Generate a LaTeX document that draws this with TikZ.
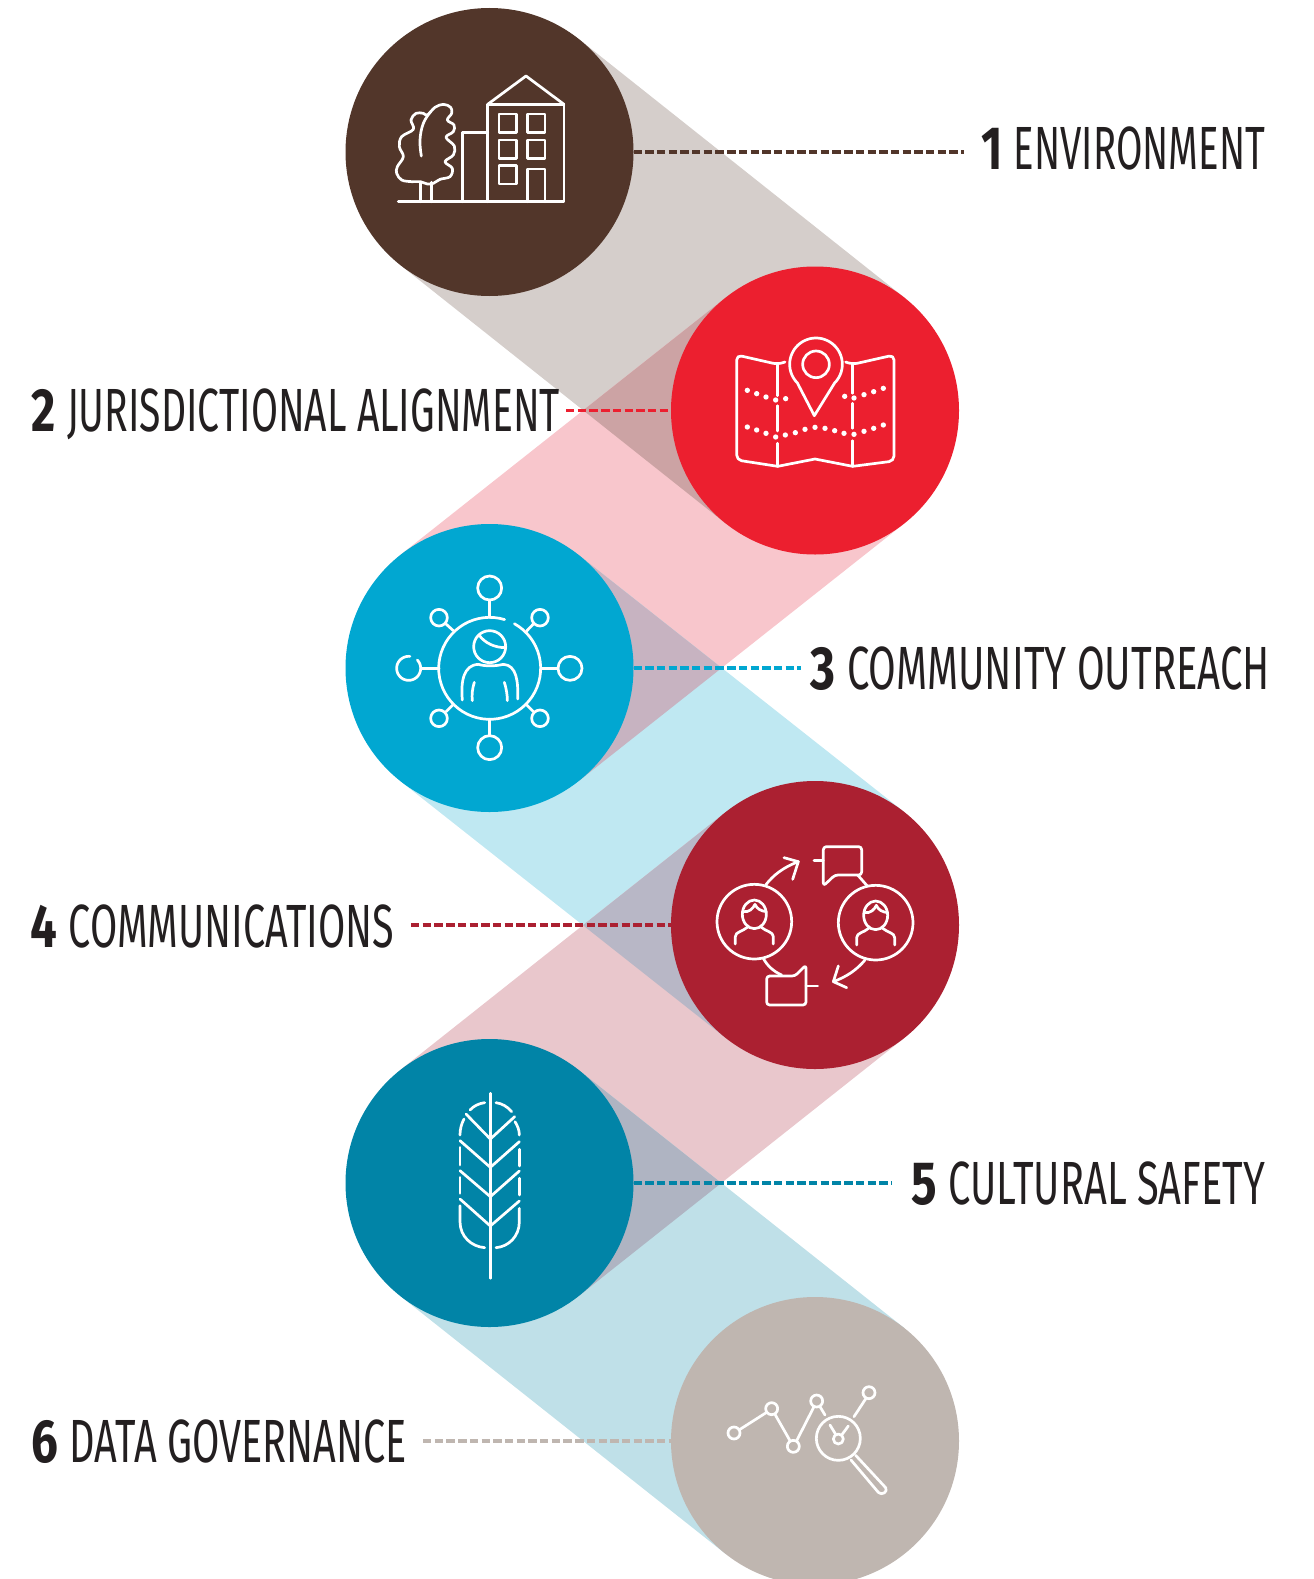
\documentclass[tikz,border=0pt]{standalone}
\usepackage{fontspec}
\usepackage{graphicx}
\usetikzlibrary{calc}
\newfontfamily\lablight{Fira Sans}
\newfontfamily\labbold{Fira Sans}[BoldFont={Fira Sans Bold}]
\definecolor{cA}{HTML}{52362A}
\definecolor{cB}{HTML}{EC1F2F}
\definecolor{cC}{HTML}{01A7D1}
\definecolor{cD}{HTML}{AB2031}
\definecolor{cE}{HTML}{0184A7}
\definecolor{cF}{HTML}{BFB6B0}
\definecolor{bA}{HTML}{D5CECB}
\definecolor{bB}{HTML}{F8C6CC}
\definecolor{bC}{HTML}{BFE8F2}
\definecolor{bD}{HTML}{E9C7CC}
\definecolor{bE}{HTML}{BFE0E8}
\definecolor{oA}{HTML}{CCA3A4}
\definecolor{oB}{HTML}{C7B3C1}
\definecolor{oC}{HTML}{B8B7C6}
\definecolor{oD}{HTML}{AFB4C2}
\definecolor{txt}{HTML}{231F20}
\newcommand\bandp[2]{($(#1)!144pt!90:(#2)$) -- ($(#1)!144pt!-90:(#2)$) -- ($(#2)!144pt!90:(#1)$) -- ($(#2)!144pt!-90:(#1)$) -- cycle}
\newcommand\labtext[3]{\resizebox{#1pt}{\height}{\fontsize{61}{61}\selectfont\scalebox{1.2}[1]{\labbold\bfseries #2} {\lablight #3}}}
\newcommand\facehead[2]{%
  \begin{scope}[shift={(#1,#2)}]
    \draw (0,0) circle[radius=112];
    \draw (0,-22) ellipse[x radius=36,y radius=43];
    \draw (-34,-30) .. controls (-15,-28) and (-5,-38) .. (2,-52) .. controls (8,-38) and (20,-32) .. (36,-30);
    \draw (-57,67) -- (-57,45) .. controls (-57,30) and (-35,30) .. (-20,16);
    \draw (57,67) -- (57,45) .. controls (57,30) and (35,30) .. (20,16);
  \end{scope}}
\tikzset{
  disc/.style={circle,inner sep=0pt,outer sep=0pt,minimum size=288pt},
  leader/.style={line width=3.6pt,dash pattern=on 8.4pt off 3.3pt},
  lab/.style={inner sep=0pt,outer sep=0pt,anchor=base west,text=txt},
  icon/.style={white,line width=2.7pt,line cap=round,line join=round,x=.33333pt,y=-.33333pt},
}
\begin{document}
\begin{tikzpicture}[x=1pt,y=-1pt]
\useasboundingbox (0,0) rectangle (1314,1579);
\clip (0,0) rectangle (1314,1579);
\coordinate (p1) at (489.5,152);
\coordinate (p2) at (815,410.5);
\coordinate (p3) at (489.5,668);
\coordinate (p4) at (815,925);
\coordinate (p5) at (489.5,1183);
\coordinate (p6) at (815,1441);
% bands
\fill[bA] \bandp{p1}{p2};
\fill[bB] \bandp{p2}{p3};
\fill[bC] \bandp{p3}{p4};
\fill[bD] \bandp{p4}{p5};
\fill[bE] \bandp{p5}{p6};
\begin{scope}\clip \bandp{p1}{p2}; \fill[oA] \bandp{p2}{p3};\end{scope}
\begin{scope}\clip \bandp{p2}{p3}; \fill[oB] \bandp{p3}{p4};\end{scope}
\begin{scope}\clip \bandp{p3}{p4}; \fill[oC] \bandp{p4}{p5};\end{scope}
\begin{scope}\clip \bandp{p4}{p5}; \fill[oD] \bandp{p5}{p6};\end{scope}
% discs
\node[disc,fill=cA] (c1) at (p1) {};
\node[disc,fill=cB] (c2) at (p2) {};
\node[disc,fill=cC] (c3) at (p3) {};
\node[disc,fill=cD] (c4) at (p4) {};
\node[disc,fill=cE] (c5) at (p5) {};
\node[disc,fill=cF] (c6) at (p6) {};
% labels
\node[lab] (l1) at (981,169) {\labtext{284}{1}{ENVIRONMENT}};
\node[lab] (l2) at (31,431) {\labtext{529}{2}{JURISDICTIONAL ALIGNMENT}};
\node[lab] (l3) at (810,689) {\labtext{460}{3}{COMMUNITY OUTREACH}};
\node[lab] (l4) at (30,947) {\labtext{364}{4}{COMMUNICATIONS}};
\node[lab] (l5) at (911,1204) {\labtext{354}{5}{CULTURAL SAFETY}};
\node[lab] (l6) at (31,1462) {\labtext{376}{6}{DATA GOVERNANCE}};
% leaders
\coordinate (e1) at (964,152);
\coordinate (e2) at (566,410.5);
\coordinate (e3) at (801,668);
\coordinate (e4) at (411,925);
\coordinate (e5) at (891,1183);
\coordinate (e6) at (423,1441);
\draw[leader,cA] (c1.east) -- (e1);
\draw[leader,cB] (e2) -- (c2.west);
\draw[leader,cC] (c3.east) -- (e3);
\draw[leader,cD] (e4) -- (c4.west);
\draw[leader,cE] (c5.east) -- (e5);
\draw[leader,cF] (e6) -- (c6.west);
% icon 1
\begin{scope}[shift={(340,0)},icon]
\draw (175,605) -- (672,605) -- (672,313) -- (443,313) -- (443,605);
\draw (443,313) -- (558,228) -- (672,313);
\draw (367,605) -- (367,397) -- (443,397);
\foreach \a/\b in {477/342,562/342,477/420,562/420,477/497}
  \draw (\a,\b) rectangle ++(53,55);
\draw (562,605) -- (562,507) -- (615,507) -- (615,605);
\draw (241,605) -- (241,547); \draw (275,605) -- (275,547);
\draw plot[smooth cycle,tension=.6] coordinates {(241,545) (215,545) (185,540) (170,520) (172,500) (190,470) (178,440) (185,410) (220,388) (213,360) (228,340) (250,340) (262,345) (285,322) (310,313) (332,322) (335,340) (322,360) (342,375) (340,395) (318,412) (343,438) (340,465) (315,485) (337,505) (330,530) (300,538) (280,550) (262,552)};
\draw plot[smooth,tension=.7] coordinates {(244,468) (240,420) (250,370) (272,335)};
\end{scope}
% icon 2
\begin{scope}[shift={(670,265)},icon]
\draw[rounded corners=5pt] (345,291) -- (323,298) -- (200,270) -- (200,585) -- (323,604);
\draw (323,604) -- (435,582) -- (548,604);
\draw[rounded corners=5pt] (548,604) -- (672,588) -- (672,270) -- (548,298) -- (527,291);
\draw (322,298) -- (322,392); \draw (322,422) -- (322,498); \draw (322,535) -- (322,604);
\draw (547,298) -- (547,385); \draw (547,415) -- (547,490); \draw (547,527) -- (547,604);
\draw (433,452) -- plot[domain=135:405,samples=48,variable=\t]({438+79*cos(\t)},{298+79*sin(\t)}) -- cycle;
\draw (438,298) circle[radius=40];
\foreach \a/\b in {232/376,260/386,288/396,317/405,347/401,524/394,552/399,582/389,611/380,640/370,232/486,260/495,288/505,317/516,346/510,376/503,405/493,435/487,465/490,494/497,522/505,552/508,582/499,611/490,640/480}
  \fill (\a,\b) circle[radius=8];
\end{scope}
% icon 3
\begin{scope}[shift={(340,525)},icon]
\draw plot[domain=299:647,samples=60,variable=\t]({449+153*cos(\t)},{430+153*sin(\t)});
\draw (449,189) circle[radius=36]; \draw (449,225) -- (449,277);
\draw (449,668) circle[radius=36]; \draw (449,583) -- (449,632);
\draw (690,430) circle[radius=36]; \draw (605,430) -- (654,430);
\draw plot[domain=-44:276,samples=48,variable=\t]({206+36*cos(\t)},{430+36*sin(\t)}); \draw (243,430) -- (297,430);
\draw (297,278) circle[radius=25]; \draw (318,297) -- (340,317);
\draw (600,278) circle[radius=25]; \draw (580,297) -- (560,318);
\draw (297,580) circle[radius=25]; \draw (318,560) -- (340,538);
\draw (600,580) circle[radius=25]; \draw (580,560) -- (558,538);
\draw (449,365) circle[radius=48];
\draw (417,330) .. controls (435,355) and (465,368) .. (497,368);
\draw (367,525) .. controls (362,470) and (370,420) .. (415,418) .. controls (435,424) and (465,424) .. (490,418) .. controls (530,420) and (535,470) .. (533,522);
\draw (403,472) .. controls (397,490) and (395,510) .. (397,527);
\draw (493,472) .. controls (499,490) and (502,510) .. (502,527);
\end{scope}
% icon 4
\begin{scope}[shift={(670,780)},icon]
\facehead{253}{425}
\facehead{617}{428}
\draw (287,315) .. controls (310,285) and (340,262) .. (385,245);
\draw (342,233) -- (385,245) -- (368,298);
\draw (585,540) .. controls (560,570) and (530,590) .. (490,605);
\draw (505,558) -- (490,605) -- (530,623);
\draw (432,241) -- (460,241);
\draw[rounded corners=3pt] (460,318) -- (460,200) -- (575,200) -- (575,285) -- (495,285) -- cycle;
\draw (563,285) -- (592,318);
\draw[rounded corners=3pt] (408,555) -- (408,675) -- (290,675) -- (290,588) -- (375,588) -- cycle;
\draw (408,618) -- (443,618);
\draw (280,535) .. controls (292,558) and (312,575) .. (335,585);
\end{scope}
% icon 5
\begin{scope}[shift={(340,1040)},icon]
\draw (451,160) -- (451,715);
\draw (378,222) -- (451,297) -- (524,230);
\draw (360,302) -- (451,382) -- (538,305);
\draw (360,392) -- (451,470) -- (538,393);
\draw (360,477) -- (451,558) -- (538,483);
\draw (434,188) .. controls (418,190) and (402,197) .. (390,210);
\draw (468,188) .. controls (485,190) and (503,200) .. (515,215);
\draw (372,237) .. controls (364,252) and (360,268) .. (360,285);
\draw (525,245) .. controls (533,258) and (538,270) .. (538,285);
\draw (360,322) -- (360,375); \draw (360,412) -- (360,460);
\draw (538,328) -- (538,378); \draw (538,415) -- (538,465);
\draw (360,497) -- (360,545) .. controls (360,590) and (395,620) .. (434,623);
\draw (538,505) -- (538,545) .. controls (538,590) and (505,620) .. (468,623);
\end{scope}
% icon 6
\begin{scope}[shift={(670,1295)},icon]
\foreach \a/\b in {192/414,305/341,370/454,440/318,597/293}
  \draw (\a,\b) circle[radius=18];
\draw (210,403) -- (290,352);
\draw (315,358) -- (360,437);
\draw (380,437) -- (432,335);
\draw (450,335) -- (465,360);
\draw (552,365) -- (588,310);
\draw (505,430) circle[radius=66];
\draw (505,432) circle[radius=15];
\draw (480,390) -- (497,418);
\draw (535,393) -- (515,420);
\draw (543,495) -- (625,592) .. controls (635,603) and (655,590) .. (647,578) -- (557,481);
\end{scope}
\end{tikzpicture}
\end{document}
